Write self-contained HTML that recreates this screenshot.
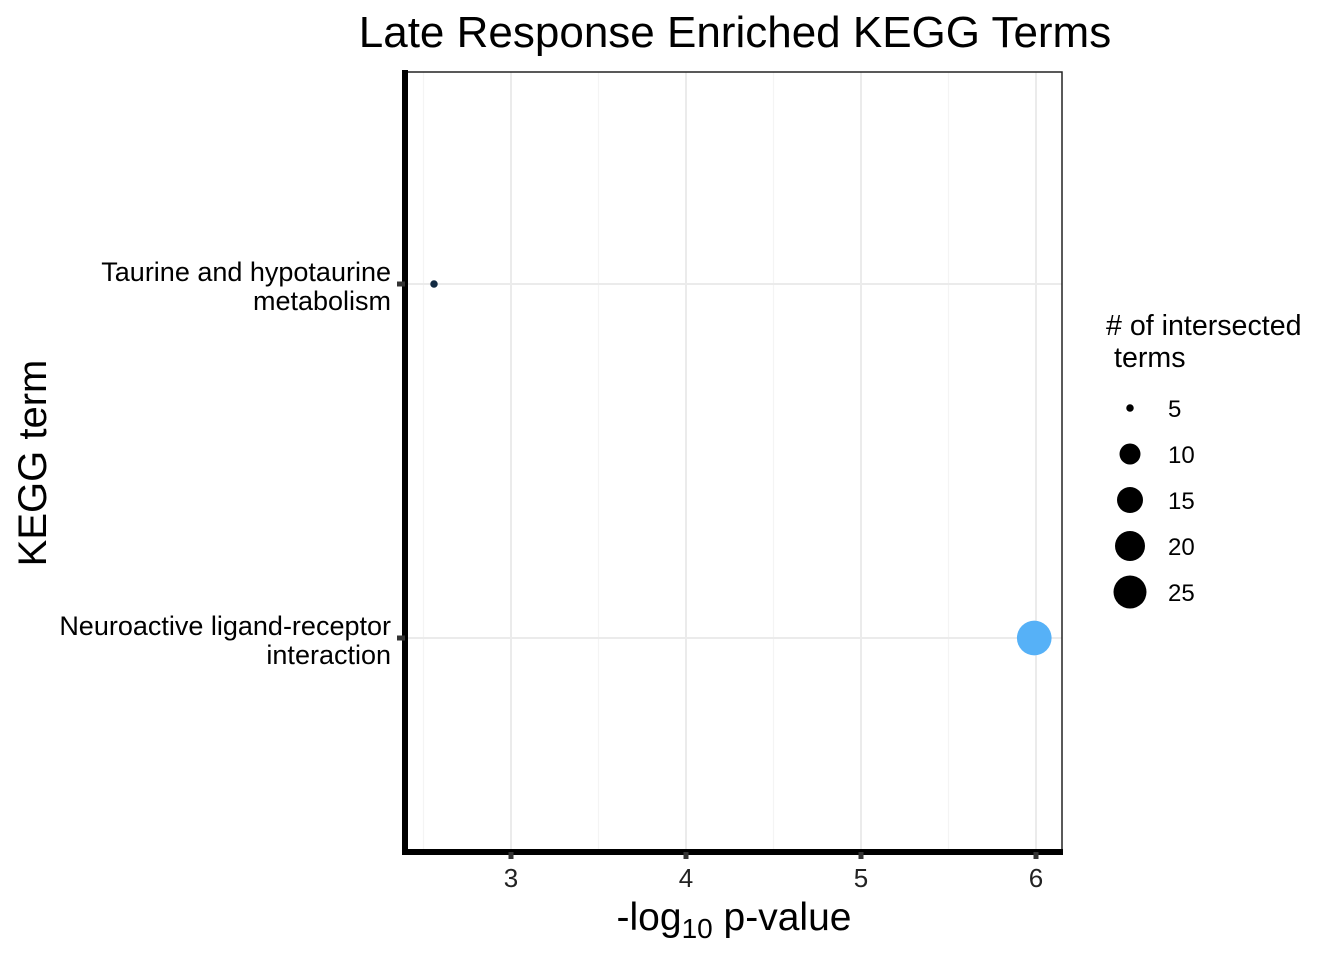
<!DOCTYPE html>
<html><head><meta charset="utf-8"><style>
body{margin:0;background:#fff;}
text{font-family:"Liberation Sans",Arial,sans-serif;}
</style></head><body>
<svg id="chart" width="1344" height="960" xmlns="http://www.w3.org/2000/svg">
<text x="735" y="47" font-size="44" text-anchor="middle">Late Response Enriched KEGG Terms</text>
<g id="grid"></g>
<g id="marks"></g>
<rect x="405" y="72" width="657" height="780" fill="none" stroke="#222" stroke-width="1.5"/>
<line x1="405" y1="70" x2="405" y2="855" stroke="#000" stroke-width="6"/>
<line x1="402" y1="852" x2="1063" y2="852" stroke="#000" stroke-width="6"/>
<g id="axes"></g>
<text x="734" y="930" font-size="39" text-anchor="middle">-log<tspan font-size="28" dy="8">10</tspan><tspan dy="-8"> p-value</tspan></text>
<text transform="translate(46,463) rotate(-90)" font-size="40" text-anchor="middle">KEGG term</text>
<g>
<text x="1106" y="335" font-size="28.6"># of intersected</text>
<text x="1114" y="367" font-size="28.6">terms</text>
<g id="legend"></g>
</g>
</svg>
<script>
const categories=["Taurine and hypotaurine|metabolism","Neuroactive ligand-receptor|interaction"];
const pvals=[2.56,5.99];
const counts=[5,28];
const colors=["#132B43","#56B1F7"];
const xTicks=[3,4,5,6];
const legendVals=[5,10,15,20,25];
const legendR2=[14,110,169,225,272];
const NS="http://www.w3.org/2000/svg";
const x=v=>511+(v-3)*175;
const yPos=[284,638];
const y=i=>yPos[i];
function rad(c){
  if(c<=legendVals[0]) return Math.sqrt(legendR2[0]*c/legendVals[0]);
  for(let i=1;i<legendVals.length;i++){ if(c<=legendVals[i]){const t=(c-legendVals[i-1])/(legendVals[i]-legendVals[i-1]);return Math.sqrt(legendR2[i-1]+t*(legendR2[i]-legendR2[i-1]));}}
  const n=legendVals.length,s=(legendR2[n-1]-legendR2[n-2])/(legendVals[n-1]-legendVals[n-2]);
  return Math.sqrt(legendR2[n-1]+(c-legendVals[n-1])*s);
}
function mk(tag,attrs,parent){const e=document.createElementNS(NS,tag);for(const k in attrs)e.setAttribute(k,attrs[k]);document.getElementById(parent).appendChild(e);return e;}
for(let v=2.5;v<=6.5;v+=0.5){const gx=x(v);if(gx<405||gx>1062)continue;
  const l=mk('line',{x1:gx,x2:gx,y1:72,y2:852,stroke:v%1===0?'#ebebeb':'#f4f4f4','stroke-width':v%1===0?2:1.2},'grid');
  
  }
categories.forEach((c,i)=>{const l=mk('line',{x1:405,x2:1062,y1:y(i),y2:y(i),stroke:'#ebebeb','stroke-width':2},'grid');
  
  });
xTicks.forEach(v=>{const t=mk('line',{x1:x(v),x2:x(v),y1:852,y2:859,stroke:'#333','stroke-width':5},'axes');
  
  
  const tx=mk('text',{x:x(v),y:887,'font-size':26,'text-anchor':'middle',fill:'#222'},'axes');tx.textContent=v;
  
  });
categories.forEach((c,i)=>{const t=mk('line',{x1:397,x2:405,y1:y(i),y2:y(i),stroke:'#333','stroke-width':5},'axes');
  
  
  c.split('|').forEach((ln,j)=>{const tx=mk('text',{x:391,y:y(i)-3+j*29,'font-size':27,'text-anchor':'end'},'axes');tx.textContent=ln;
    
    });});
pvals.forEach((p,i)=>{const c=mk('circle',{cx:x(p),cy:y(i),r:rad(counts[i]),fill:colors[i]},'marks');
  
  });
legendVals.forEach((v,i)=>{const cy=408+i*46;
  const c=mk('circle',{cx:1130,cy:cy,r:Math.sqrt(legendR2[i]),fill:'#000'},'legend');
  
  
  const t=mk('text',{x:1168,y:cy+9,'font-size':24},'legend');t.textContent=v;
  
  });
</script>
</body></html>
